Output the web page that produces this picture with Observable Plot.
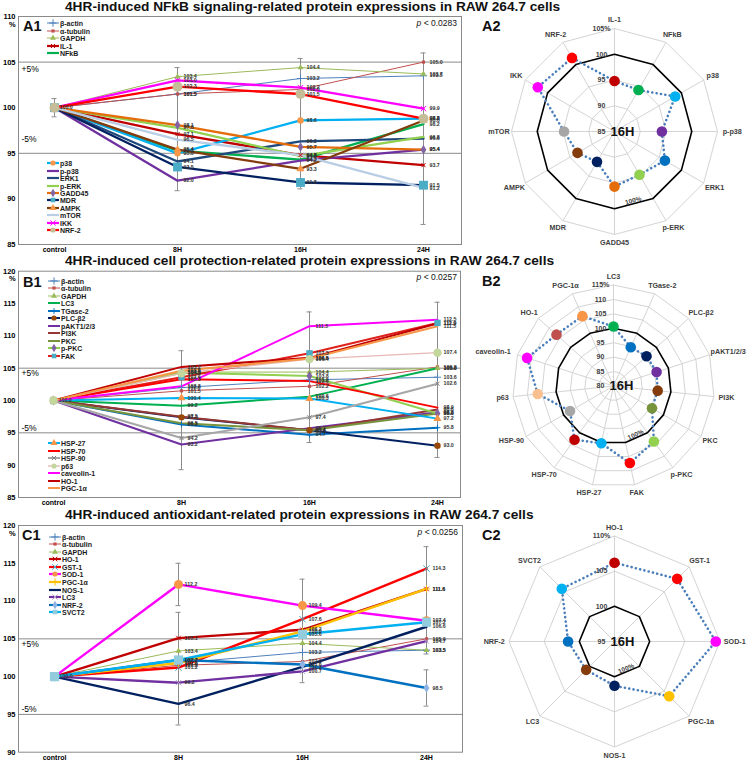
<!DOCTYPE html>
<html><head><meta charset="utf-8">
<script src="https://cdn.jsdelivr.net/npm/d3@7"></script>
<script src="https://cdn.jsdelivr.net/npm/@observablehq/plot@0.6"></script>
<style>
body{margin:0;background:#fff;font-family:"Liberation Sans",Arial,sans-serif;}
#root{position:relative;width:748px;height:760px;overflow:hidden;background:#fff;}
svg{overflow:visible;}
</style></head><body><div id="root"></div>
<script>
// ================= DATA =================
const times = ["control", "8H", "16H", "24H"];
const titles = [
  "4HR-induced NFkB signaling-related protein expressions in RAW 264.7 cells",
  "4HR-induced cell protection-related protein expressions in RAW 264.7 cells",
  "4HR-induced antioxidant-related protein expressions in RAW 264.7 cells"
];
const pValues = ["0.0283", "0.0257", "0.0256"];

// ---- A: NFkB signaling
const seriesA = ["β-actin","α-tubulin","GAPDH","IL-1","NFkB","p38","p-p38","ERK1","p-ERK","GADD45","MDR","AMPK","mTOR","IKK","NRF-2"];
const valuesA = [
  [100,101.5,103.2,103.5],
  [100,101.5,102.0,105.0],
  [100,103.4,104.4,103.7],
  [100,97.1,94.8,93.7],
  [100,95.3,94.3,98.2],
  [100,95.0,98.6,98.8],
  [100,92.0,94.2,95.4],
  [100,94.1,96.3,96.6],
  [100,97.8,94.7,96.8],
  [100,98.1,95.7,95.4],
  [100,93.5,91.8,91.5],
  [100,95.4,93.3,98.6],
  [100,96.5,94.8,91.2],
  [100,103.0,102.2,99.9],
  [100,102.3,101.5,98.8]
];
const yTicksA = [85,90,95,100,105,110];
const errTimeA = ["control","8H","16H","24H"];
const errLowA  = [99.0, 90.9, 91.1, 87.2];
const errHighA = [101.0, 104.4, 105.4, 106.0];
const radarTicksA = [85,90,95,100,105];
const radarTickLabelsA = ["85","90","95","100","105%"];
const radarLabelsA = seriesA.slice(3);

// ---- B: cell protection
const seriesB = ["β-actin","α-tubulin","GAPDH","LC3","TGase-2","PLC-β2","pAKT1/2/3","PI3K","PKC","p-PKC","FAK","HSP-27","HSP-70","HSP-90","p63","caveolin-1","HO-1","PGC-1α"];
const valuesB = [
  [100,102.0,103.2,103.6],
  [100,101.5,102.2,105.2],
  [100,104.4,104.4,105.0],
  [100,99.2,100.6,105.0],
  [100,96.3,94.7,95.8],
  [100,97.4,95.4,93.0],
  [100,93.2,95.7,98.2],
  [100,97.5,95.4,98.6],
  [100,96.5,95.4,98.0],
  [100,104.3,103.8,98.0],
  [100,103.6,107.3,112.0],
  [100,100.4,100.3,97.2],
  [100,103.3,103.0,98.9],
  [100,94.2,97.4,102.6],
  [100,104.2,106.4,107.4],
  [100,102.2,111.5,112.5],
  [100,105.2,106.6,111.9],
  [100,104.6,106.5,111.5]
];
const yTicksB = [85,90,95,100,105,110,115,120];
const errTimeB = ["control","8H","16H","24H"];
const errLowB  = [99.5, 89.3, 93.5, 91.2];
const errHighB = [100.5, 107.7, 113.7, 115.2];
const radarTicksB = [80,85,90,95,100,105,110,115];
const radarTickLabelsB = ["80","85","90","95","100","105","110","115%"];
const radarLabelsB = seriesB.slice(3);

// ---- C: antioxidant
const seriesC = ["β-actin","α-tubulin","GAPDH","HO-1","GST-1","SOD-1","PGC-1α","NOS-1","LC3","NRF-2","SVCT2"];
const valuesC = [
  [100,101.8,103.2,103.5],
  [100,101.5,102.0,105.0],
  [100,103.4,104.4,103.5],
  [100,105.1,106.2,111.6],
  [100,101.2,107.6,114.3],
  [100,112.2,109.4,107.4],
  [100,101.8,106.0,111.6],
  [100,96.4,101.3,106.6],
  [100,99.2,100.7,104.7],
  [100,102.2,101.6,98.5],
  [100,102.2,105.6,107.2]
];
const yTicksC = [90,95,100,105,110,115,120];
const errTimeC = ["control","8H","8H","16H","24H","24H"];
const errLowC  = [99.7, 93.6, 109.4, 99.2, 103.0, 96.1];
const errHighC = [100.3, 108.5, 115.0, 112.9, 117.2, 100.9];
const radarTicksC = [95,100,105,110];
const radarTickLabelsC = ["95","100","105","110%"];
const radarLabelsC = ["HO-1","GST-1","SOD-1","PGC-1a","NOS-1","LC3","NRF-2","SVCT2"];

// ================= STYLES =================
const styleA = {
  colors: ["#4F81BD","#C0504D","#9BBB59","#C00000","#00B050","#00B0F0","#7030A0","#1F497D","#92D050","#E46C0A","#002060","#843C0C","#B9CDE5","#FF00FF","#FF0000"],
  widths: [1,1,1,2.3,2.3,2.3,2.3,2.3,2.3,2.3,2.3,2.3,2.3,2.3,2.3],
  markers: [["plus","#4F81BD",2.5],["square","#C0504D",1.8],["triangle","#9BBB59",2.2],["times","#C00000",2],null,["circle","#F79646",3.2],null,null,null,["diamond","#8064A2",3],["square","#4BACC6",5],["triangle","#F79646",3],null,["times","#FF00FF",2.5],["circle","#C4BD97",5]],
  radarColors: ["#C00000","#00B050","#00B0F0","#7030A0","#0070C0","#92D050","#E46C0A","#002060","#843C0C","#A6A6A6","#FF00FF","#FF0000"]
};
const styleB = {
  colors: ["#4F81BD","#C0504D","#9BBB59","#00B050","#0070C0","#002060","#7030A0","#953735","#77933C","#92D050","#E0201A","#00B0F0","#FF0000","#A6A6A6","#E6B9B8","#FF00FF","#C00000","#F79646"],
  widths: [1,1,1,2,2,2,2,2,2,2,2,2,2,2,1.4,2,2,2],
  markers: [["plus","#4F81BD",2.5],["square","#C0504D",1.8],["triangle","#9BBB59",2.2],null,["plus","#0070C0",2],["circle","#974806",3.2],null,null,null,["diamond","#8064A2",3],["square","#4BACC6",3.6],["triangle","#F79646",3],null,["times","#7F7F7F",2],["circle","#C3D69B",4.2],null,null,null],
  radarColors: ["#00B050","#0070C0","#002060","#7030A0","#843C0C","#77933C","#92D050","#FF0000","#00B0F0","#C00000","#A6A6A6","#FAC090","#FF00FF","#C0504D","#F79646"]
};
const styleC = {
  colors: ["#4F81BD","#C0504D","#9BBB59","#C00000","#FF0000","#FF00FF","#FFC000","#002060","#7030A0","#0070C0","#00B0F0"],
  widths: [1,1,1,2.4,2.4,2.4,2.4,2.4,2.4,2.4,2.4],
  markers: [["plus","#4F81BD",2.5],["square","#C0504D",1.8],["triangle","#9BBB59",2.2],["times","#C00000",2.2],["times","#4BACC6",3],["circle","#F79646",4.5],["plus","#FFC000",2.5],null,["times","#B3A2C7",2.5],["diamond","#8EB4E3",3],["square","#93CDDD",5.2]],
  radarColors: ["#C00000","#FF0000","#FF00FF","#FFC000","#002060","#843C0C","#0070C0","#00B0F0"]
};

// ================= HELPERS =================
const root = document.getElementById("root");
const FONT = "'Liberation Sans',Arial,sans-serif";
function place(el, left, top) {
  const d = document.createElement("div");
  d.style.cssText = `position:absolute;left:${left}px;top:${top}px;`;
  d.appendChild(el);
  root.appendChild(d);
}
function label(html, x, y, css, anchor = "start") {
  const d = document.createElement("div");
  d.innerHTML = html;
  const tx = anchor === "end" ? "-100%" : anchor === "middle" ? "-50%" : "0";
  d.style.cssText = `position:absolute;left:${x}px;top:${y}px;white-space:nowrap;line-height:1;${css};transform:translate(${tx},-50%);`;
  root.appendChild(d);
}
const symbolMap = {plus: d3.symbolPlus, times: d3.symbolTimes, square: d3.symbolSquare, triangle: d3.symbolTriangle, diamond: d3.symbolDiamond, circle: d3.symbolCircle};
const strokeSymbols = new Set(["plus","times"]);

function legend(series, style, idx, left, firstCenter, step) {
  idx.forEach((i, k) => {
    const cy = firstCenter + k * step;
    const w = Math.min(style.widths[i], 2.2);
    const m = style.markers[i];
    let mk = "";
    if (m) {
      const r = Math.min(m[2], 2.6);
      const path = d3.symbol(symbolMap[m[0]], Math.PI * r * r)();
      mk = strokeSymbols.has(m[0])
        ? `<path d="${path}" transform="translate(6,3.5)" fill="none" stroke="${m[1]}" stroke-width="1"/>`
        : `<path d="${path}" transform="translate(6,3.5)" fill="${m[1]}"/>`;
    }
    const html = `<svg width="12" height="7" style="vertical-align:middle"><line x1="0" x2="12" y1="3.5" y2="3.5" stroke="${style.colors[i]}" stroke-width="${w}"/>${mk}</svg><span style="margin-left:1px">${series[i]}</span>`;
    const d = document.createElement("div");
    d.innerHTML = html;
    d.style.cssText = `position:absolute;left:${left}px;top:${cy}px;transform:translateY(-50%);white-space:nowrap;font-size:7px;font-weight:bold;color:#1a1a1a;line-height:7px;display:flex;align-items:center;`;
    root.appendChild(d);
  });
}

function lineChart(o) {
  const {series, values, style, yDomain, yTicks, xRange, width, height, margin, eT, eL, eH, plusDy, minusDy} = o;
  const rows = series.flatMap((s, i) => times.map((t, j) => ({s, i, t, v: values[i][j]})));
  const errs = eT.map((t, j) => ({t, lo: eL[j], hi: eH[j]}));
  const caps = errs.flatMap(e => [{t: e.t, v: e.lo}, {t: e.t, v: e.hi}]);
  const marks = [
    Plot.ruleY([95, 105], {stroke: "#8a8a8a", strokeWidth: 1}),
    Plot.frame({stroke: "#8a8a8a"}),
    Plot.ruleX(errs, {x: "t", y1: "lo", y2: "hi", stroke: "#8c8c8c", strokeWidth: 1}),
    Plot.ruleY(caps, {y: "v", x1: "t", x2: "t", insetLeft: -2.5, insetRight: -2.5, stroke: "#8c8c8c"})
  ];
  series.forEach((s, i) => {
    marks.push(Plot.line(rows.filter(r => r.i === i), {x: "t", y: "v", stroke: style.colors[i], strokeWidth: style.widths[i]}));
  });
  series.forEach((s, i) => {
    const m = style.markers[i];
    if (!m) return;
    const opts = strokeSymbols.has(m[0]) ? {stroke: m[1], strokeWidth: 1, fill: "none"} : {fill: m[1]};
    marks.push(Plot.dot(rows.filter(r => r.i === i), {x: "t", y: "v", symbol: m[0], r: m[2], ...opts}));
  });
  marks.push(
    Plot.text(rows.filter(r => r.t !== "control"), {x: "t", y: "v", text: r => r.v.toFixed(1), dx: 6, textAnchor: "start", fontSize: 5.3, fontWeight: "bold", fill: "#333"}),
    Plot.text(rows.filter(r => r.t === "control" && r.i === 0), {x: "t", y: "v", text: r => r.v.toFixed(1), dx: 5, textAnchor: "start", fontSize: 5.3, fontWeight: "bold", fill: "#333"}),
    Plot.text([105], {y: d => d, frameAnchor: "left", dx: 3, dy: plusDy, text: () => "+5%", textAnchor: "start", fontSize: 8.5}),
    Plot.text([95], {y: d => d, frameAnchor: "left", dx: 3, dy: minusDy, text: () => "-5%", textAnchor: "start", fontSize: 8.5}),
    Plot.text([yDomain[1]], {y: d => d, frameAnchor: "left", dx: -9.5, dy: 7.6, text: () => "%", fontSize: 7.5, fontWeight: "bold"}),
    Plot.axisY({ticks: yTicks, tickSize: 0, tickPadding: 3, fontSize: 7.5, fontWeight: "bold", label: null}),
    Plot.axisX({tickSize: 0, tickPadding: 2.5, fontSize: 7, fontWeight: "bold", label: null})
  );
  return Plot.plot({
    width, height,
    marginLeft: margin[0], marginRight: margin[1], marginTop: margin[2], marginBottom: margin[3],
    x: {type: "point", domain: times, range: xRange, padding: 0, label: null, axis: null},
    y: {domain: yDomain, label: null, axis: null},
    style: `font-family:${FONT};overflow:visible;background:transparent;color:#000;`,
    marks
  });
}

function radarChart(o) {
  const {labels, values, colors, ticks, tickLabels, R, cx, cy, width, height, edge} = o;
  const n = labels.length, vmin = ticks[0], vmax = ticks[ticks.length - 1];
  const rr = v => (v - vmin) / (vmax - vmin);
  const ang = i => 2 * Math.PI * i / n;
  const pt = (v, i) => ({x: rr(v) * Math.sin(ang(i)), y: rr(v) * Math.cos(ang(i))});
  const grid = ticks.slice(1).flatMap(t => d3.range(n + 1).map(i => ({t, ...pt(t, i % n)})));
  const spokes = d3.range(n).map(i => { const p = pt(vmax, i); return {x1: 0, y1: 0, x2: p.x, y2: p.y}; });
  const dots = values.map((v, i) => ({...pt(v, i), c: colors[i]}));
  const ring = [...dots, dots[0]];
  const xMaxLab = (width - cx - 1) / R;
  const labs = labels.map((l, i) => {
    const s = Math.sin(ang(i)), c = Math.cos(ang(i));
    const w = l.length * 4.3;
    const k = 1 + 4 / R;
    const x = Math.min(k * s + s * w / 2 / R, xMaxLab - w / 2 / R);
    return {l, x, y: k * c + c * 4.5 / R};
  });
  const tl = ticks.map((t, j) => ({...pt(t, 0), l: tickLabels[j]}));
  const e0 = pt(100, edge), e1 = pt(100, edge + 1);
  const mid = {x: (e0.x + e1.x) / 2, y: (e0.y + e1.y) / 2};
  const rot = (ang(edge) + ang(edge + 1)) / 2 * 180 / Math.PI - 180;
  return Plot.plot({
    width, height, margin: 0,
    x: {domain: [-cx / R, (width - cx) / R], range: [0, width], axis: null},
    y: {domain: [-(height - cy) / R, cy / R], range: [height, 0], axis: null},
    color: {type: "identity"},
    style: `font-family:${FONT};overflow:visible;background:transparent;`,
    marks: [
      Plot.line(grid.filter(g => g.t !== 100), {x: "x", y: "y", z: "t", stroke: "#d4d4d4", strokeWidth: 1}),
      Plot.link(spokes, {x1: "x1", y1: "y1", x2: "x2", y2: "y2", stroke: "#d4d4d4", strokeWidth: 1}),
      Plot.line(grid.filter(g => g.t === 100), {x: "x", y: "y", stroke: "#000", strokeWidth: 1.6}),
      Plot.line(ring, {x: "x", y: "y", stroke: "#4A7EBB", strokeWidth: 2.6, strokeDasharray: "0.1 4.3", strokeLinecap: "round"}),
      Plot.dot(dots, {x: "x", y: "y", r: 5.3, fill: "c"}),
      Plot.text(tl, {x: "x", y: "y", text: "l", dx: -13, fontSize: 7, fontWeight: "bold", fill: "#404040"}),
      Plot.text(labs, {x: "x", y: "y", text: "l", fontSize: 7.2, fontWeight: "bold", fill: "#404040"}),
      Plot.text([pt(vmin, 0)], {x: "x", y: "y", text: () => "16H", dx: 8, fontSize: 13, fontWeight: "bold", fill: "#111"}),
      Plot.text([mid], {x: "x", y: "y", text: () => "100%", rotate: rot, lineAnchor: "bottom", dy: -1, fontSize: 6.5, fontWeight: "bold", fill: "#404040"})
    ]
  });
}

// ================= BUILD =================
const titleCss = "font-weight:bold;font-size:13.7px;color:#111";
label(titles[0], 65, 7, titleCss);
label(titles[1], 65, 261, titleCss);
label(titles[2], 65, 515.4, titleCss);

// Row A
place(lineChart({series: seriesA, values: valuesA, style: styleA, yDomain: [85, 110], yTicks: yTicksA,
  xRange: [53, 424], width: 470, height: 252, margin: [18, 9, 16, 8],
  eT: errTimeA, eL: errLowA, eH: errHighA, plusDy: 7, minusDy: -14}), 0, 0);
place(radarChart({labels: radarLabelsA, values: valuesA.slice(3).map(v => v[2]), colors: styleA.radarColors,
  ticks: radarTicksA, tickLabels: radarTickLabelsA, R: 103, cx: 94, cy: 131, width: 228, height: 250, edge: 5}), 520, 0);

// Row B
place(lineChart({series: seriesB, values: valuesB, style: styleB, yDomain: [85, 120], yTicks: yTicksB,
  xRange: [52, 437], width: 470, height: 256, margin: [18, 10, 20.7, 9],
  eT: errTimeB, eL: errLowB, eH: errHighB, plusDy: 5.5, minusDy: -5}), 0, 250);
place(radarChart({labels: radarLabelsB, values: valuesB.slice(3).map(v => v[2]), colors: styleB.radarColors,
  ticks: radarTicksB, tickLabels: radarTickLabelsB, R: 101, cx: 93, cy: 135.5, width: 228, height: 255, edge: 6}), 520, 250);

// Row C
place(lineChart({series: seriesC, values: valuesC, style: styleC, yDomain: [90, 120], yTicks: yTicksC,
  xRange: [53, 426], width: 470, height: 255, margin: [18, 8, 20, 8.3],
  eT: errTimeC, eL: errLowC, eH: errHighC, plusDy: 5.5, minusDy: -5.5}), 0, 505);
place(radarChart({labels: radarLabelsC, values: valuesC.slice(3).map(v => v[2]), colors: styleC.radarColors,
  ticks: radarTicksC, tickLabels: radarTickLabelsC, R: 105.5, cx: 94, cy: 136, width: 228, height: 255, edge: 3}), 520, 505);

// Panel labels & p-values
const panelCss = "font-weight:bold;font-size:14.5px;color:#111";
label("A1", 23, 26, panelCss); label("A2", 482, 26, panelCss);
label("B1", 23, 281.7, panelCss); label("B2", 482, 280.5, panelCss);
label("C1", 22, 535, panelCss); label("C2", 482, 534.5, panelCss);
const pCss = "font-size:8.5px;color:#111";
label(`<i>p</i> &lt; ${pValues[0]}`, 457, 23.3, pCss, "end");
label(`<i>p</i> &lt; ${pValues[1]}`, 457, 276.7, pCss, "end");
label(`<i>p</i> &lt; ${pValues[2]}`, 458, 531.5, pCss, "end");

// Legends
legend(seriesA, styleA, d3.range(0, 5), 47, 23.3, 7.4);
legend(seriesA, styleA, d3.range(5, 15), 47, 163.3, 7.4);
legend(seriesB, styleB, d3.range(0, 11), 48, 281, 7.45);
legend(seriesB, styleB, d3.range(11, 18), 48, 443.3, 7.45);
legend(seriesC, styleC, d3.range(0, 11), 49, 536.7, 7.55);
</script></body></html>
